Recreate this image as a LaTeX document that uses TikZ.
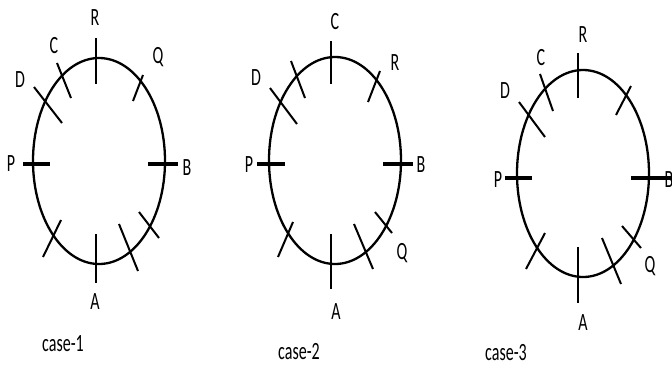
\documentclass[tikz,border=0pt]{standalone}
\usepackage{fontspec}
\setmainfont{Carlito}
\begin{document}
\begin{tikzpicture}[x=1pt,y=-1pt,
  ring/.style={line width=2.3pt},
  tick/.style={line width=2pt},
  bigtick/.style={line width=4pt},
  lbl/.style={inner sep=0pt,font=\fontsize{16}{18}\selectfont},
  caselbl/.style={inner sep=0pt,font=\fontsize{16}{18}\selectfont}]
\useasboundingbox (0,0) rectangle (672,373);
\newcommand{\stretchtxt}[1]{\scalebox{1}[1.55]{#1}}
% ---------- case 1 ----------
\draw[ring] (99,161) ellipse [x radius=66, y radius=103];
\draw[tick] (96,38) -- (96,84);
\draw[tick] (96,234) -- (96,283);
\draw[bigtick] (23,164) -- (50,164);
\draw[bigtick] (148,164) -- (178,164);
\draw[tick] (57,63) -- (71,98);
\draw[tick] (34,87) -- (62,123);
\draw[tick] (143,75) -- (133,101);
\draw[tick] (61,220) -- (43,257);
\draw[tick] (119,224) -- (138,271);
\draw[tick] (139,212) -- (159,238);
\node[lbl] (r1) at (95,18) {\stretchtxt{R}};
\node[lbl] (q1) at (158,57) {\stretchtxt{Q}};
\node[lbl] (c1) at (54,46) {\stretchtxt{C}};
\node[lbl] (d1) at (20,80) {\stretchtxt{D}};
\node[lbl] (p1) at (11,164) {\stretchtxt{P}};
\node[lbl] (b1) at (187,168) {\stretchtxt{B}};
\node[lbl] (a1) at (95,302) {\stretchtxt{A}};
\node[caselbl] (case1) at (63,344) {\stretchtxt{case-1}};
% ---------- case 2 ----------
\draw[ring] (335,160.5) ellipse [x radius=66, y radius=103.5];
\draw[tick] (331,41) -- (331,84);
\draw[tick] (331,234) -- (331,289);
\draw[bigtick] (257,164) -- (285,164);
\draw[bigtick] (383,164) -- (413,164);
\draw[tick] (291,61) -- (305,98);
\draw[tick] (270,88) -- (297,124);
\draw[tick] (380,71) -- (368,102);
\draw[tick] (293,222) -- (278,257);
\draw[tick] (354,224) -- (373,269);
\draw[tick] (375,212) -- (392,233);
\node[lbl] (c2) at (335,22) {\stretchtxt{C}};
\node[lbl] (d2) at (256,78) {\stretchtxt{D}};
\node[lbl] (r2) at (395,63) {\stretchtxt{R}};
\node[lbl] (p2) at (249,165) {\stretchtxt{P}};
\node[lbl] (b2) at (421,165) {\stretchtxt{B}};
\node[lbl] (q2) at (402,253) {\stretchtxt{Q}};
\node[lbl] (a2) at (336,312) {\stretchtxt{A}};
\node[caselbl] (case2) at (299,352) {\stretchtxt{case-2}};
% ---------- case 3 ----------
\draw[ring] (583,173.5) ellipse [x radius=66, y radius=103.5];
\draw[tick] (578,53) -- (578,98);
\draw[tick] (578,247) -- (578,303);
\draw[bigtick] (505,178) -- (532,178);
\draw[bigtick] (631,178) -- (672,178);
\draw[tick] (540,74) -- (553,111);
\draw[tick] (519,102) -- (545,137);
\draw[tick] (631,86) -- (616,115);
\draw[tick] (545,233) -- (526,269);
\draw[tick] (602,238) -- (621,284);
\draw[tick] (622,226) -- (641,248);
\node[lbl] (r3) at (583,35) {\stretchtxt{R}};
\node[lbl] (c3) at (541,58) {\stretchtxt{C}};
\node[lbl] (d3) at (505,91) {\stretchtxt{D}};
\node[lbl] (p3) at (498,180) {\stretchtxt{P}};
\node[lbl] (b3) at (669,180) {\stretchtxt{B}};
\node[lbl] (q3) at (650,266) {\stretchtxt{Q}};
\node[lbl] (a3) at (583,323) {\stretchtxt{A}};
\node[caselbl] (case3) at (506,353) {\stretchtxt{case-3}};
\end{tikzpicture}
\end{document}
